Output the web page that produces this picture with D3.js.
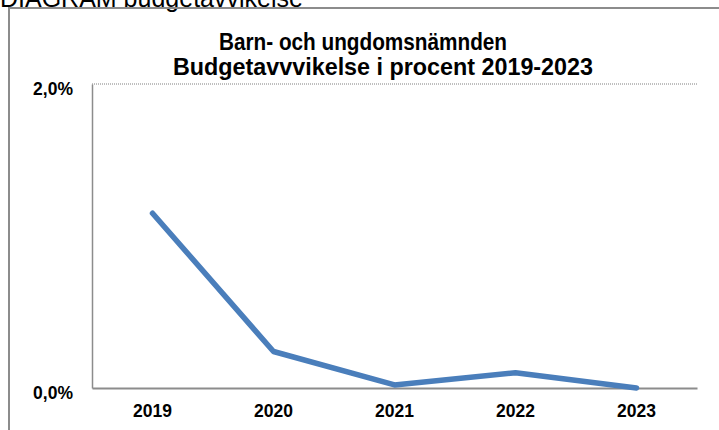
<!DOCTYPE html>
<html>
<head>
<meta charset="utf-8">
<script src="https://cdn.jsdelivr.net/npm/d3@7"></script>
<style>
  body { margin: 0; background: #fff; }
  svg { display: block; font-family: Arial, "Liberation Sans", sans-serif; }
</style>
</head>
<body>
<svg id="chart"></svg>
<script>
// ---------------- data ----------------
const years = ['2019', '2020', '2021', '2022', '2023'];
const deviation = [1.15, 0.24, 0.02, 0.10, 0.0];   // percent
const yTicks = [0, 2];
const titleLines = ['Barn- och ungdomsnämnden', 'Budgetavvvikelse i procent  2019-2023'];
const caption = 'DIAGRAM budgetavvikelse';

const width = 719, height = 430;
const margin = {top: 84, right: 22, bottom: 42, left: 92};
const FONT = 'Arial, "Liberation Sans", sans-serif';

const svg = d3.select('#chart')
    .attr('width', width)
    .attr('height', height);

// caption, cut off at the top edge
svg.append('text')
    .attr('x', 0).attr('y', 7)
    .attr('font-size', 25)
    .attr('font-family', FONT)
    .text(caption);

// outer frame
svg.append('rect')
    .attr('x', 9).attr('y', 8)
    .attr('width', 730).attr('height', 440)
    .attr('fill', 'none')
    .attr('stroke', '#8c8c8c')
    .attr('stroke-width', 2);

// -------- scales
const x = d3.scaleBand()
    .domain(years)
    .range([margin.left, width - margin.right]);

const y = d3.scaleLinear()
    .domain([0, 2])
    .range([height - margin.bottom, margin.top]);

// -------- gridline at top (dotted)
svg.append('line')
    .attr('x1', margin.left).attr('x2', width - margin.right)
    .attr('y1', y(2)).attr('y2', y(2))
    .attr('stroke', '#7f7f7f')
    .attr('stroke-dasharray', '1,1');

// -------- y axis
const yAxis = svg.append('g')
    .attr('transform', `translate(${margin.left},0)`)
    .call(d3.axisLeft(y)
        .tickValues(yTicks)
        .tickSize(0)
        .tickPadding(19)
        .tickFormat(d => d3.format('.1f')(d).replace('.', ',') + '%'));
yAxis.select('.domain').attr('stroke', '#8c8c8c').attr('stroke-width', 1.5);
yAxis.selectAll('text')
    .attr('font-size', 17.5)
    .attr('font-weight', 'bold')
    .attr('fill', '#000')
    .attr('font-family', FONT)
    .attr('dy', '0.62em');

// -------- x axis
const xAxis = svg.append('g')
    .attr('transform', `translate(0,${y(0)})`)
    .call(d3.axisBottom(x).tickSize(0).tickPadding(0));
xAxis.select('.domain').attr('stroke', '#8c8c8c').attr('stroke-width', 2);
xAxis.selectAll('text')
    .attr('font-size', 17.5)
    .attr('font-weight', 'bold')
    .attr('fill', '#000')
    .attr('font-family', FONT)
    .attr('dy', null)
    .attr('y', 29);

// -------- line
const line = d3.line()
    .x((d, i) => x(years[i]) + x.bandwidth() / 2)
    .y(d => y(d));

svg.append('path')
    .datum(deviation)
    .attr('d', line)
    .attr('fill', 'none')
    .attr('stroke', '#4a7ebb')
    .attr('stroke-width', 5.5)
    .attr('stroke-linejoin', 'round')
    .attr('stroke-linecap', 'round');

// -------- title
const titlePos = [{cx: 363, base: 50, w: 288}, {cx: 383, base: 75, w: 420}];
svg.append('g').selectAll('text')
    .data(titleLines)
    .join('text')
    .attr('transform', (d, i) => `translate(${titlePos[i].cx},${titlePos[i].base}) scale(1,1.08)`)
    .attr('text-anchor', 'middle')
    .attr('font-size', 21.5)
    .attr('font-weight', 'bold')
    .attr('font-family', FONT)
    .attr('textLength', (d, i) => titlePos[i].w)
    .attr('lengthAdjust', 'spacingAndGlyphs')
    .text(d => d);
</script>
</body>
</html>
